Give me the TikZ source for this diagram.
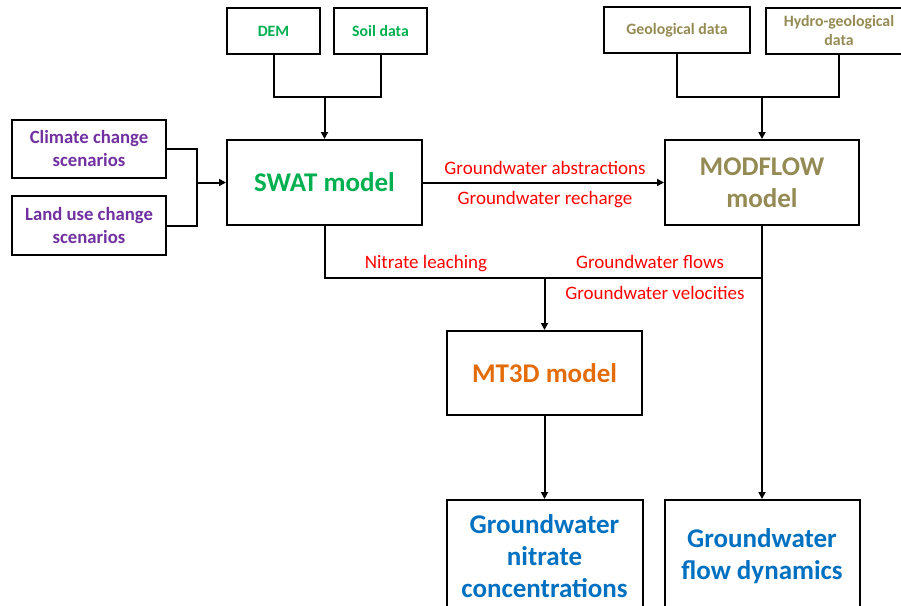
\documentclass[tikz,border=0pt]{standalone}
\usepackage{fontspec}
\setmainfont{Carlito}
\usetikzlibrary{arrows.meta}
\definecolor{cgreen}{HTML}{00B050}
\definecolor{cpurple}{HTML}{7030A0}
\definecolor{colive}{HTML}{948A54}
\definecolor{corange}{HTML}{E36C09}
\definecolor{cblue}{HTML}{0070C0}
\definecolor{cred}{HTML}{FF0000}
\tikzset{
  box/.style={draw=black, line width=2pt, rectangle, inner sep=0pt, align=center, font=\bfseries},
  small/.style={box, font=\bfseries\fontsize{15.8}{19}\selectfont},
  mid/.style={box, font=\bfseries\fontsize{18.7}{23}\selectfont, text=cpurple},
  big/.style={box, font=\bfseries\fontsize{27}{32}\selectfont},
  lab/.style={text=cred, font=\fontsize{19}{22}\selectfont, inner sep=0pt},
  conn/.style={line width=2pt, draw=black},
  arr/.style={conn, -{Triangle[length=7pt,width=7pt]}},
}
\begin{document}
\begin{tikzpicture}[x=1pt,y=-1pt]
\useasboundingbox (0,0) rectangle (901,605);
% top inputs
\node[small, text=cgreen, minimum width=93pt, minimum height=46pt] (dem) at (273.5,31) {DEM};
\node[small, text=cgreen, minimum width=93pt, minimum height=46pt] (soil) at (380.5,31) {Soil data};
\node[small, text=colive, minimum width=146pt, minimum height=46pt] (geo) at (677,30) {Geological data};
\node[small, text=colive, minimum width=146pt, minimum height=46pt] (hydro) at (839,31) {Hydro-geological\\data};
% left inputs
\node[mid, minimum width=154pt, minimum height=58pt] (clim) at (89,149) {Climate change\\scenarios};
\node[mid, minimum width=154pt, minimum height=59pt] (land) at (89,225.5) {Land use change\\scenarios};
% models
\node[big, text=cgreen, minimum width=195pt, minimum height=85pt] (swat) at (324.5,182.5) {SWAT model};
\node[big, text=colive, minimum width=194pt, minimum height=85pt] (modf) at (762,182.5) {MODFLOW\\model};
\node[big, text=corange, minimum width=195pt, minimum height=84pt] (mt3d) at (544.5,373) {MT3D model};
% outputs
\node[big, text=cblue, minimum width=196pt, minimum height=112pt] (nitr) at (544.5,556) {Groundwater\\nitrate\\concentrations};
\node[big, text=cblue, minimum width=195pt, minimum height=112pt] (flow) at (762,556) {Groundwater\\flow dynamics};
% junctions
\coordinate (j1) at (324.5,97);
\coordinate (j2) at (197,182.5);
\coordinate (j3) at (762,97);
\coordinate (j5) at (544.5,278);
% connectors
\draw[conn] (dem.south) -- (dem.south |- j1) -- (soil.south |- j1) -- (soil.south);
\draw[arr] (j1) -- (swat.north);
\draw[conn] (geo.south) -- (geo.south |- j3) -- (hydro.south |- j3) -- (hydro.south);
\draw[arr] (j3) -- (modf.north);
\draw[conn] (clim.east) -| (j2) |- (land.east);
\draw[arr] (j2) -- (swat.west);
\draw[arr] (swat.east) -- (modf.west);
\draw[conn] (swat.south) |- (modf.south |- j5);
\draw[arr] (j5) -- (mt3d.north);
\draw[arr] (modf.south) -- (flow.north);
\draw[arr] (mt3d.south) -- (nitr.north);
% labels
\node[lab] (l1) at (545,168) {Groundwater abstractions};
\node[lab] (l2) at (545,200) {Groundwater recharge};
\node[lab] (l3) at (426,264) {Nitrate leaching};
\node[lab] (l4) at (650,262) {Groundwater flows};
\node[lab] (l5) at (655,293) {Groundwater velocities};
\end{tikzpicture}
\end{document}
